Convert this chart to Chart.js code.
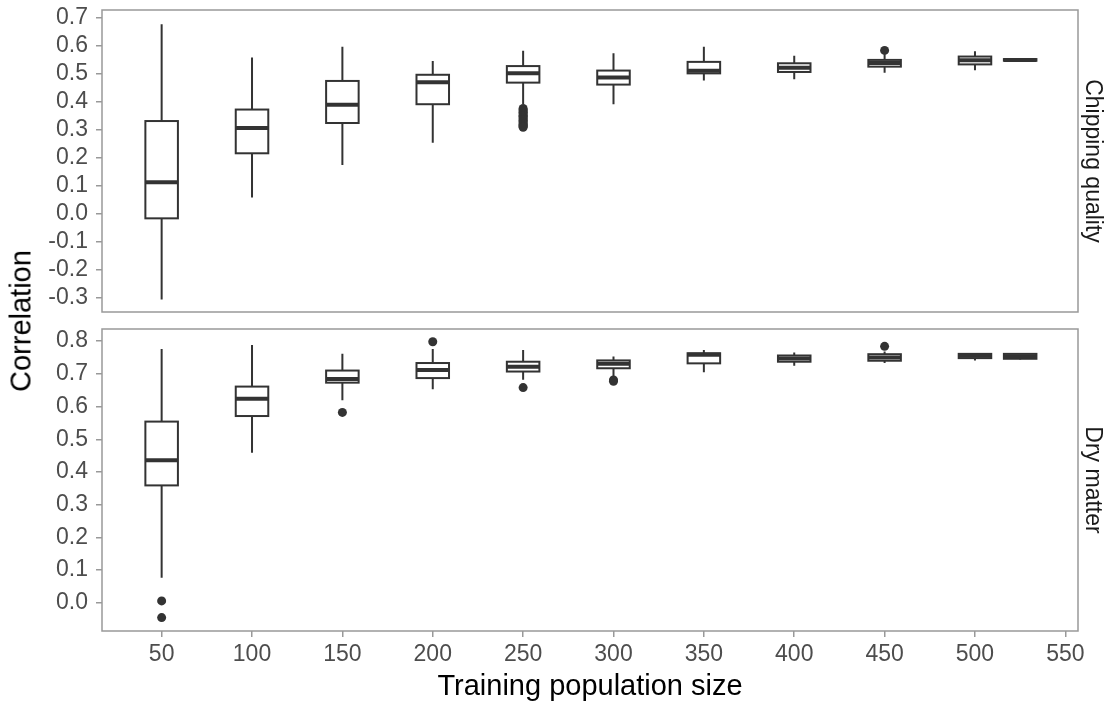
<!DOCTYPE html>
<html>
<head>
<meta charset="utf-8">
<script src="https://cdn.jsdelivr.net/npm/chart.js@4.4.1/dist/chart.umd.min.js"></script>
<style>
  body { margin: 0; background: #fff; }
  #wrap { position: relative; width: 1118px; height: 709px; font-family: "Liberation Sans", Arial, sans-serif; }
  canvas { position: absolute; left: 0; }
  #ylab {
    position: absolute; left: 21px; top: 321px;
    transform: translate(-50%, -50%) rotate(-90deg);
    font-size: 29px; line-height: 1; white-space: nowrap; color: #000;
  }
</style>
</head>
<body>
<div id="wrap">
  <canvas id="chipChart" width="1118" height="320" style="top:0"></canvas>
  <canvas id="dryChart" width="1118" height="389" style="top:320px"></canvas>
  <div id="ylab">Correlation</div>
</div>
<script>
// training population sizes (x positions of the boxes)
const sizes = [50, 100, 150, 200, 250, 300, 350, 400, 450, 500, 525];
const xTicks = [50, 100, 150, 200, 250, 300, 350, 400, 450, 500, 550];

// Chipping quality
const chipLo  = [-0.306, 0.057, 0.173, 0.253, 0.390, 0.390, 0.475, 0.479, 0.502, 0.511, 0.543];
const chipQ1  = [-0.017, 0.215, 0.323, 0.390, 0.467, 0.460, 0.500, 0.505, 0.524, 0.532, 0.545];
const chipMed = [0.112, 0.305, 0.388, 0.468, 0.500, 0.485, 0.509, 0.520, 0.537, 0.547, 0.548];
const chipQ3  = [0.330, 0.371, 0.473, 0.495, 0.526, 0.510, 0.541, 0.536, 0.548, 0.560, 0.551];
const chipHi  = [0.675, 0.557, 0.595, 0.544, 0.581, 0.572, 0.595, 0.563, 0.568, 0.579, 0.553];
const chipOut = [[], [], [], [],
  [0.375, 0.370, 0.366, 0.361, 0.356, 0.351, 0.347, 0.342, 0.337, 0.333, 0.328, 0.323, 0.319, 0.315, 0.311, 0.308],
  [], [], [], [0.582], [], []];
const chipTicks = [-0.3, -0.2, -0.1, 0.0, 0.1, 0.2, 0.3, 0.4, 0.5, 0.6, 0.7];

// Dry matter
const dryLo  = [0.077, 0.459, 0.619, 0.653, 0.682, 0.692, 0.705, 0.725, 0.733, 0.741, 0.744];
const dryQ1  = [0.359, 0.571, 0.673, 0.687, 0.707, 0.717, 0.732, 0.737, 0.740, 0.748, 0.746];
const dryMed = [0.436, 0.624, 0.684, 0.712, 0.722, 0.731, 0.758, 0.747, 0.750, 0.755, 0.754];
const dryQ3  = [0.554, 0.661, 0.710, 0.733, 0.737, 0.741, 0.763, 0.756, 0.760, 0.761, 0.761];
const dryHi  = [0.776, 0.788, 0.761, 0.776, 0.773, 0.753, 0.773, 0.765, 0.768, 0.763, 0.763];
const dryOut = [[0.006, -0.045], [], [0.582], [0.798], [0.658], [0.681, 0.677], [], [], [0.784], [], []];
const dryTicks = [0.0, 0.1, 0.2, 0.3, 0.4, 0.5, 0.6, 0.7, 0.8];

const boxWidth = 18;
const ink = '#333333';
const frame = '#999999';
Chart.defaults.font.family = '"Liberation Sans", Arial, sans-serif';

function outlierPoints(out) {
  let pts = [];
  out.forEach((vals, i) => vals.forEach(v => pts.push({x: sizes[i], y: v})));
  return pts;
}

function boxPlugin(lo, q1, med, q3, hi) {
  return {
    id: 'boxes',
    beforeDatasetsDraw(chart) {
      const {ctx, scales: {x, y}} = chart;
      ctx.save();
      ctx.strokeStyle = ink;
      sizes.forEach((size, i) => {
        const cx = x.getPixelForValue(size);
        const left = x.getPixelForValue(size - boxWidth / 2);
        const right = x.getPixelForValue(size + boxWidth / 2);
        const top = y.getPixelForValue(q3[i]);
        const bottom = y.getPixelForValue(q1[i]);
        ctx.lineWidth = 2;
        ctx.beginPath();
        ctx.moveTo(cx, y.getPixelForValue(hi[i]));
        ctx.lineTo(cx, top);
        ctx.moveTo(cx, bottom);
        ctx.lineTo(cx, y.getPixelForValue(lo[i]));
        ctx.stroke();
        ctx.fillStyle = '#ffffff';
        ctx.fillRect(left, top, right - left, bottom - top);
        ctx.strokeRect(left, top, right - left, bottom - top);
        const m = y.getPixelForValue(med[i]);
        ctx.lineWidth = 4;
        ctx.beginPath();
        ctx.moveTo(left, m);
        ctx.lineTo(right, m);
        ctx.stroke();
      });
      ctx.restore();
    }
  };
}

const panelBorder = {
  id: 'panelBorder',
  afterDraw(chart) {
    const {ctx, chartArea: a} = chart;
    ctx.save();
    ctx.strokeStyle = frame;
    ctx.lineWidth = 1.5;
    ctx.strokeRect(a.left, a.top, a.right - a.left, a.bottom - a.top);
    ctx.restore();
  }
};

function noEdgePadding(s) {
  s.paddingTop = 0;
  s.paddingBottom = 0;
  s.paddingLeft = 0;
  s.paddingRight = 0;
}

function makeChart(id, opts) {
  return new Chart(document.getElementById(id), {
    type: 'scatter',
    data: {
      datasets: [{
        data: outlierPoints(opts.out),
        backgroundColor: ink,
        borderWidth: 0,
        pointRadius: 4.5
      }]
    },
    options: {
      responsive: false,
      animation: false,
      layout: { padding: opts.padding },
      plugins: { legend: { display: false }, tooltip: { enabled: false } },
      scales: {
        x: {
          type: 'linear',
          min: 17, max: 557,
          display: opts.showX,
          afterBuildTicks: s => { s.ticks = xTicks.map(v => ({value: v})); },
          afterFit: s => { s.height = opts.showX ? 78 : 0; noEdgePadding(s); },
          ticks: { color: '#4d4d4d', font: { size: 23 }, padding: 4, autoSkip: false, maxRotation: 0 },
          grid: { drawOnChartArea: false, drawTicks: true, tickLength: 6, color: frame, lineWidth: 1.5 },
          border: { display: false },
          title: { display: true, text: 'Training population size', color: '#000', font: { size: 29 }, padding: { top: 0, bottom: 5 } }
        },
        y: {
          type: 'linear',
          position: 'left',
          min: opts.ymin, max: opts.ymax,
          afterBuildTicks: s => { s.ticks = opts.ticks.map(v => ({value: v})); },
          afterFit: s => { s.width = 102; noEdgePadding(s); },
          ticks: { color: '#4d4d4d', font: { size: 23 }, padding: 8, autoSkip: false, callback: v => v.toFixed(1) },
          grid: { drawOnChartArea: false, drawTicks: true, tickLength: 6, color: frame, lineWidth: 1.5 },
          border: { display: false }
        },
        strip: {
          type: 'linear',
          position: 'right',
          afterFit: s => { s.width = 40; noEdgePadding(s); },
          ticks: { display: false },
          grid: { display: false },
          border: { display: false },
          title: { display: true, text: opts.strip, color: '#1a1a1a', font: { size: 23 }, padding: { top: 12, bottom: 0 } }
        }
      }
    },
    plugins: [boxPlugin(opts.lo, opts.q1, opts.med, opts.q3, opts.hi), panelBorder]
  });
}

makeChart('chipChart', {
  lo: chipLo, q1: chipQ1, med: chipMed, q3: chipQ3, hi: chipHi, out: chipOut,
  ticks: chipTicks, ymin: -0.351, ymax: 0.726,
  strip: 'Chipping quality', showX: false,
  padding: { top: 10, bottom: 8, left: 0, right: 0 }
});

makeChart('dryChart', {
  lo: dryLo, q1: dryQ1, med: dryMed, q3: dryQ3, hi: dryHi, out: dryOut,
  ticks: dryTicks, ymin: -0.086, ymax: 0.837,
  strip: 'Dry matter', showX: true,
  padding: { top: 9, bottom: 0, left: 0, right: 0 }
});
</script>
</body>
</html>
